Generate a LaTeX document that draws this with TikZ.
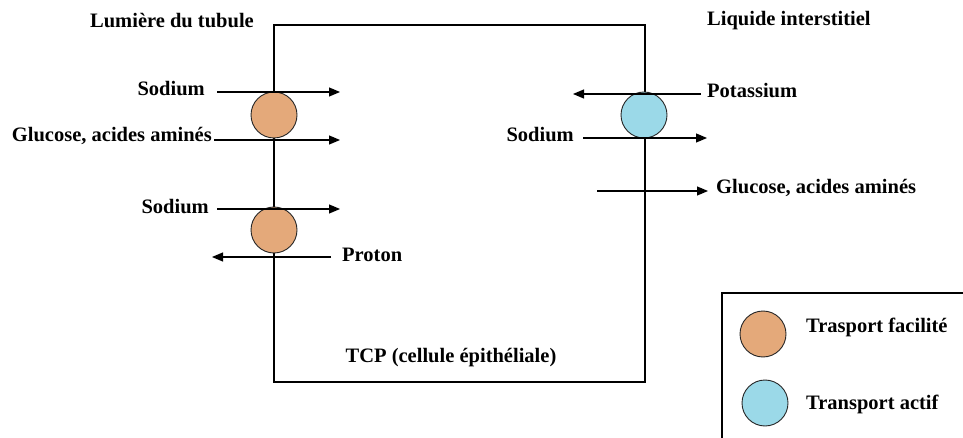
\documentclass[tikz,border=0pt]{standalone}
\usepackage{fontspec}
\setmainfont{Liberation Serif}
\usetikzlibrary{arrows.meta}
\usepackage{xcolor}
\definecolor{Facil}{HTML}{E4A97A}
\definecolor{Actif}{HTML}{9BD9E8}

\begin{document}
\begin{tikzpicture}[x=1pt, y=-1pt, every node/.style={font=\fontsize{20.5}{24}\selectfont\bfseries, inner sep=0pt},
  flux/.style={-{Triangle[length=11pt,width=9pt]}, line width=1.2pt},
  canal/.style={circle, draw=black!85, line width=0.9pt, minimum size=46pt}]
\useasboundingbox (0,0) rectangle (963,438);
\clip (0,0) rectangle (963,438);
\draw[line width=1.2pt] (274,25) rectangle (645,382);
\node (lum) at (172,21) {Lumière du tubule};
\node[anchor=west] (liq) at (707,21) {Liquide interstitiel};
\node (tcp) at (451,358) {TCP (cellule épithéliale)};
\node[canal, fill=Facil] (cf1) at (274,115) {};
\node[canal, fill=Facil] (cf2) at (274,230) {};
\node[canal, fill=Actif] (ca) at (644,115) {};
% pole apical
\node[anchor=east] (na1) at (205,89) {Sodium};
\coordinate (na1a) at (217,92); \coordinate (na1b) at (340,92);
\draw[flux] (na1a) -- (na1b);
\node[anchor=east] (glu1) at (212,136) {Glucose, acides aminés};
\coordinate (glu1a) at (214,140); \coordinate (glu1b) at (340,140);
\draw[flux] (glu1a) -- (glu1b);
\node[anchor=east] (na2) at (209,207) {Sodium};
\coordinate (na2a) at (217,209); \coordinate (na2b) at (340,209);
\draw[flux] (na2a) -- (na2b);
\node[anchor=west] (hp) at (342,255) {Proton};
\coordinate (hpa) at (331,257); \coordinate (hpb) at (212,257);
\draw[flux] (hpa) -- (hpb);
% pole basolateral
\node[anchor=west] (kp) at (707,91) {Potassium};
\coordinate (kpa) at (701,94); \coordinate (kpb) at (573,94);
\draw[flux] (kpa) -- (kpb);
\node[anchor=east] (na3) at (574,135) {Sodium};
\coordinate (na3a) at (583,138); \coordinate (na3b) at (707,138);
\draw[flux] (na3a) -- (na3b);
\node[anchor=west] (glu2) at (716,188) {Glucose, acides aminés};
\coordinate (glu2a) at (597,191); \coordinate (glu2b) at (708,191);
\draw[flux] (glu2a) -- (glu2b);
% legende
\draw[line width=1.2pt] (722,293) rectangle (990,470);
\node[canal, fill=Facil] (lf) at (763,334) {};
\node[anchor=west] (lft) at (806,327) {Trasport facilité};
\node[canal, fill=Actif] (la) at (765,403) {};
\node[anchor=west] (lat) at (806,404) {Transport actif};
\end{tikzpicture}
\end{document}
